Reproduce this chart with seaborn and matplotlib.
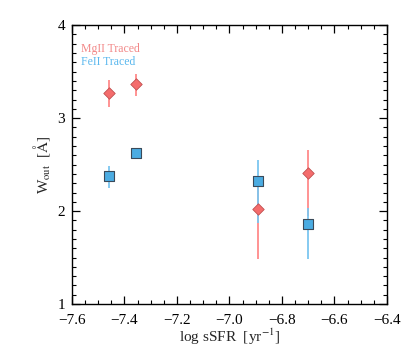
import matplotlib
matplotlib.use("Agg")
import matplotlib.pyplot as plt
import seaborn as sns
import pandas as pd
import numpy as np
from matplotlib.ticker import MultipleLocator

sns.set_theme(style="white")
plt.rcParams['font.family'] = ['Liberation Serif', 'DejaVu Serif']
plt.rcParams['mathtext.fontset'] = 'stix'

log_ssfr = [-7.46, -7.355, -6.89, -6.70]
mg_w = [3.27, 3.37, 2.025, 2.41]
mg_lo = [3.12, 3.24, 1.49, 1.95]
mg_hi = [3.41, 3.47, 2.30, 2.66]
fe_w = [2.38, 2.63, 2.32, 1.86]
fe_lo = [2.25, 2.57, 1.87, 1.49]
fe_hi = [2.48, 2.67, 2.55, 2.03]

mg_color = "#F46C6C"
fe_color = "#4BACE2"

df = pd.DataFrame({
    "x": log_ssfr * 2,
    "w": mg_w + fe_w,
    "tracer": ["MgII"] * 4 + ["FeII"] * 4,
})

fig = plt.figure(figsize=(4.09, 3.54), dpi=100)
ax = fig.add_axes([0.176, 0.141, 0.77, 0.788])

mg_err = [np.array(mg_w) - np.array(mg_lo), np.array(mg_hi) - np.array(mg_w)]
fe_err = [np.array(fe_w) - np.array(fe_lo), np.array(fe_hi) - np.array(fe_w)]
ax.errorbar(log_ssfr, mg_w, yerr=mg_err, fmt='none', ecolor="#FF8A8A", elinewidth=1.3, capsize=0, zorder=1)
ax.errorbar(log_ssfr, fe_w, yerr=fe_err, fmt='none', ecolor="#7CC6F0", elinewidth=1.3, capsize=0, zorder=2)

sns.scatterplot(data=df[df.tracer == "MgII"], x="x", y="w", marker="D", s=34,
                color=mg_color, edgecolor="#C05050", linewidth=0.6, ax=ax, zorder=3, legend=False)
sns.scatterplot(data=df[df.tracer == "FeII"], x="x", y="w", marker="s", s=60,
                color=fe_color, edgecolor="#3A4A5A", linewidth=0.8, ax=ax, zorder=4, legend=False)

ax.set_xlim(-7.6, -6.4)
ax.set_ylim(1, 4)
ax.xaxis.set_major_locator(MultipleLocator(0.2))
ax.xaxis.set_minor_locator(MultipleLocator(0.05))
ax.yaxis.set_major_locator(MultipleLocator(1))
ax.yaxis.set_minor_locator(MultipleLocator(0.1))
ax.xaxis.set_major_formatter(matplotlib.ticker.FuncFormatter(lambda v, p: f"{v:.1f}".replace("-", "\u2212")))
ax.yaxis.set_major_formatter(matplotlib.ticker.FuncFormatter(lambda v, p: f"{v:.0f}"))
ax.tick_params(which='both', direction='in', top=True, right=True, bottom=True, left=True,
               colors='black', labelsize=11)
ax.tick_params(which='major', length=6, width=0.9)
ax.tick_params(which='minor', length=3, width=0.8)
ax.tick_params(axis='x', which='major', pad=7)
ax.tick_params(axis='y', which='major', pad=5)
for s in ax.spines.values():
    s.set_color('black')
    s.set_linewidth(1.0)

ax.set_xlabel(r"log sSFR  [yr$^{-1}$]", fontsize=11, labelpad=0)
ax.set_ylabel(r"W$_{\rm out}$  [$\rm\AA$]", fontsize=11, labelpad=4)

ax.text(0.03, 0.905, "MgII Traced", color="#F28888", fontsize=8.5, transform=ax.transAxes)
ax.text(0.03, 0.858, "FeII Traced", color="#5BB8EE", fontsize=8.5, transform=ax.transAxes)

fig.savefig("out.png", dpi=100)
